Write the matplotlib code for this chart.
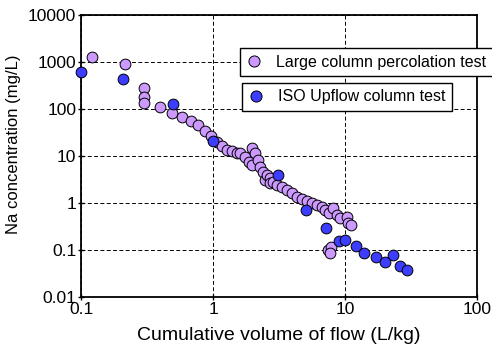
import matplotlib
matplotlib.use("Agg")
import matplotlib.pyplot as plt
from matplotlib.lines import Line2D

plt.rcParams['font.family'] = ['Liberation Sans', 'DejaVu Sans']

# Large column percolation test
large_x = [0.122, 0.215, 0.302, 0.302, 0.302, 0.40, 0.49, 0.585, 0.68, 0.774, 0.87, 0.96,
           1.07, 1.16, 1.27, 1.39, 1.51, 1.60, 1.75, 1.87, 1.97,
           1.96, 2.08, 2.20, 2.27, 2.40, 2.48, 2.55, 2.70, 2.70, 2.86, 3.04, 3.31, 3.62,
           3.95, 4.31, 4.70, 5.13, 5.60, 6.11, 6.66, 7.05, 7.60, 8.15, 8.65, 9.16,
           10.3, 10.6, 11.2, 7.47, 7.8, 7.7]
large_y = [1260, 893, 276, 182, 136, 112, 83, 66.5, 56, 45, 34.5, 26.7,
           20.1, 16.3, 13.4, 12.8, 11.4, 11.6, 9.5, 7.45, 6.4,
           14.6, 11.4, 8.2, 5.9, 4.6, 3.08, 3.94, 3.36, 2.67, 2.84, 2.42, 2.22, 1.89,
           1.61, 1.36, 1.22, 1.10, 1.0, 0.91, 0.82, 0.71, 0.60, 0.77, 0.56, 0.48,
           0.51, 0.37, 0.34, 0.1, 0.117, 0.085]

# ISO Upflow column test
iso_x = [0.1, 0.207, 0.5, 1.0, 3.09, 5.07, 7.14, 9.0, 10.0, 12.05, 13.9, 17.2, 20.1, 23.2, 26.1, 29.6]
iso_y = [620, 435, 128, 21.2, 3.94, 0.71, 0.30, 0.158, 0.16, 0.123, 0.085, 0.070, 0.055, 0.080, 0.046, 0.0375]

x_ticks = [0.1, 1, 10, 100]
x_ticklabels = ['0.1', '1', '10', '100']
y_ticks = [0.01, 0.1, 1, 10, 100, 1000, 10000]
y_ticklabels = ['0.01', '0.1', '1', '10', '100', '1000', '10000']

labels = ['Large column percolation test', 'ISO Upflow column test']
purple = '#CC99FF'
blue = '#3D3DFF'

fig = plt.figure(figsize=(4.92, 3.51), dpi=100)
ax = fig.add_axes([81/492, 1-297/351, (477-81)/492, (297-15)/351])

ax.scatter(large_x, large_y, s=60, c=purple, edgecolors='black', linewidths=0.7, zorder=3)
ax.scatter(iso_x, iso_y, s=60, c=blue, edgecolors='black', linewidths=0.7, zorder=4, clip_on=False)

ax.set_xscale('log')
ax.set_yscale('log')
ax.set_xlim(0.1, 100)
ax.set_ylim(0.01, 10000)
ax.set_xticks(x_ticks)
ax.set_xticklabels(x_ticklabels)
ax.set_yticks(y_ticks)
ax.set_yticklabels(y_ticklabels)
ax.minorticks_off()
ax.tick_params(axis='both', direction='inout', length=5, width=1.0, labelsize=12.5, pad=1)
ax.grid(True, which='major', linestyle=(0, (4, 2.5)), color='black', linewidth=0.7)
ax.set_axisbelow(True)
for s in ax.spines.values():
    s.set_linewidth(1.3)
    s.set_color('black')

ax.set_xlabel('Cumulative volume of flow (L/kg)', fontsize=14, labelpad=7)
ax.set_ylabel('Na concentration (mg/L)', fontsize=12)
ax.yaxis.set_label_coords(-60/396, 0.54)

h1 = Line2D([], [], marker='o', linestyle='none', markersize=8, markerfacecolor=purple,
            markeredgecolor='black', markeredgewidth=0.7)
h2 = Line2D([], [], marker='o', linestyle='none', markersize=8, markerfacecolor=blue,
            markeredgecolor='black', markeredgewidth=0.7)

leg1 = ax.legend(handles=[h1], labels=[labels[0]], loc='upper left',
                 bbox_to_anchor=(239.5/492, 1-48.5/351), bbox_transform=fig.transFigure,
                 borderaxespad=0, fancybox=False, edgecolor='black', framealpha=1,
                 fontsize=11.5, handletextpad=0.9, borderpad=0.4, handlelength=1.0)
leg1.get_frame().set_linewidth(1.0)
ax.add_artist(leg1)
leg2 = ax.legend(handles=[h2], labels=[labels[1]], loc='upper left',
                 bbox_to_anchor=(241.5/492, 1-83/351), bbox_transform=fig.transFigure,
                 borderaxespad=0, fancybox=False, edgecolor='black', framealpha=1,
                 fontsize=11.5, handletextpad=0.9, borderpad=0.4, handlelength=1.0)
leg2.get_frame().set_linewidth(1.0)
for lg in (leg1, leg2):
    lg.set_zorder(10)

fig.savefig('out.png', dpi=100)
